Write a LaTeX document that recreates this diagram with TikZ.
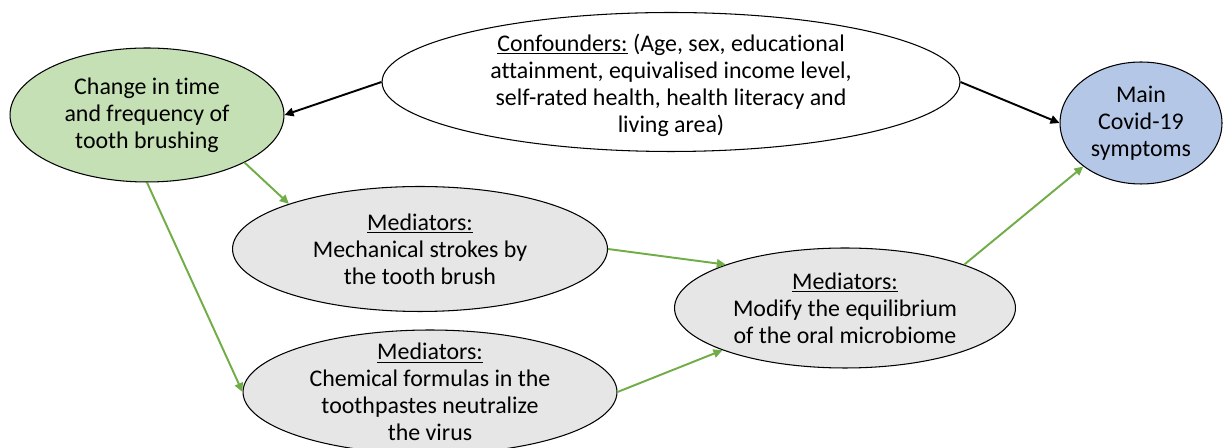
\documentclass[tikz,border=0pt]{standalone}
\usepackage{fontspec}
\setmainfont{Carlito}[Ligatures=NoCommon]
\usetikzlibrary{shapes.geometric, arrows.meta}
\usepackage{xcolor}
\definecolor{ExpFill} {RGB}{197,224,180}
\definecolor{OutFill} {RGB}{180,199,231}
\definecolor{MedFill} {RGB}{231,230,230}
\definecolor{ArrGreen}{RGB}{112,173,71}
\tikzset{
  % Ellipse outline, size given per node
  ell/.style={
    ellipse, draw=black, line width=0.6pt, inner sep=0pt
  },
  % Text set inside the ellipses
  txt/.style={
    align=center, inner sep=0pt,
    font=\fontsize{13.6}{15.4}\selectfont
  },
  arr/.style={-{Triangle[length=1.8mm, width=1.7mm]}, line width=1.1pt},
  arrG/.style={arr, draw=ArrGreen, fill=ArrGreen}
}

\begin{document}
\begin{tikzpicture}[x=0.02cm, y=-0.02cm]

  \useasboundingbox (0,0) rectangle (1223,448);

  %% ── Exposure and outcome ─────────────────────────────────────────────────
  \node[ell, fill=ExpFill, minimum width=5.48cm, minimum height=2.68cm]
    (expo) at (147,115) {};
  \node[txt] (expoTxt) at (expo)
    {Change in time\\and frequency of\\tooth brushing};

  \node[ell, fill=OutFill, minimum width=3.24cm, minimum height=2.44cm]
    (covid) at (1141,123) {};
  \node[txt] (covidTxt) at (covid) {Main\\Covid-19\\symptoms};

  %% ── Confounders ──────────────────────────────────────────────────────────
  \node[ell, fill=white, minimum width=11.56cm, minimum height=2.78cm]
    (conf) at (671,82) {};
  \node[txt, yshift=-0.06cm] (confTxt) at (conf)
    {\underline{Confounders:} (Age, sex, educational\\
     attainment, equivalised income level,\\
     self-rated health, health literacy and\\
     living area)};

  %% ── Mediators ────────────────────────────────────────────────────────────
  \node[ell, fill=MedFill, minimum width=7.5cm, minimum height=2.5cm]
    (mech) at (420,249) {};
  \node[txt] (mechTxt) at (mech)
    {\underline{Mediators:}\\Mechanical strokes by\\the tooth brush};

  \node[ell, fill=MedFill, minimum width=7.48cm, minimum height=2.48cm]
    (chem) at (430,392) {};
  \node[txt] (chemTxt) at (chem)
    {\underline{Mediators:}\\Chemical formulas in the\\toothpastes neutralize\\the virus};

  \node[ell, fill=MedFill, minimum width=6.82cm, minimum height=2.4cm]
    (oral) at (845,308) {};
  \node[txt] (oralTxt) at (oral)
    {\underline{Mediators:}\\Modify the equilibrium\\of the oral microbiome};

  %% ── Arrows ───────────────────────────────────────────────────────────────
  \draw[arr] (conf.west) -- (expo.east);
  \draw[arr] (conf.east) -- (covid.west);

  \draw[arrG] (expo.334)  -- (mech.161);
  \draw[arrG] (expo.south) -- (chem.west);
  \draw[arrG] (mech.east) -- (oral.160);
  \draw[arrG] (chem.east) -- (oral.199);
  \draw[arrG] (oral.20)   -- (covid.217);

\end{tikzpicture}
\end{document}
